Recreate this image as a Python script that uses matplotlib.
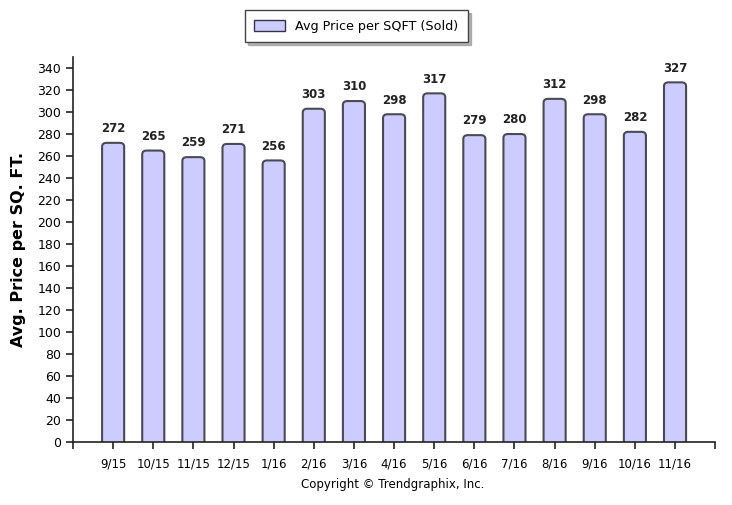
import matplotlib
matplotlib.use("Agg")
import matplotlib.pyplot as plt
from matplotlib.patches import Patch, FancyBboxPatch

months = ["9/15", "10/15", "11/15", "12/15", "1/16", "2/16", "3/16", "4/16",
          "5/16", "6/16", "7/16", "8/16", "9/16", "10/16", "11/16"]
values = [272, 265, 259, 271, 256, 303, 310, 298, 317, 279, 280, 312, 298, 282, 327]
yticks = list(range(0, 341, 20))

fig = plt.figure(figsize=(7.32, 5.05), dpi=100)
ax = fig.add_axes([0.0997, 0.1248, 0.8773, 0.7622])

x = list(range(len(months)))
bars = ax.bar(x, values, width=0.55, color="#ccccff", edgecolor="#4a4a55", linewidth=1.5, zorder=2)
# replace with rounded-top versions of the same bars
for r in bars:
    bx, by, bw, bh = r.get_x(), r.get_y(), r.get_width(), r.get_height()
    p = FancyBboxPatch((bx, by - 10), bw, bh + 10,
                       boxstyle="round,pad=0,rounding_size=0.11", mutation_aspect=32,
                       facecolor="#ccccff", edgecolor="#4a4a55", linewidth=1.5, zorder=2)
    ax.add_patch(p)
    r.set_visible(False)

for xi, v in zip(x, values):
    ax.text(xi, v + 7, str(v), ha="center", va="bottom", fontsize=8.5, fontweight="bold", color="#222222")

ax.set_xlim(-1, len(months))
ax.set_ylim(0, 350)
ax.set_yticks(yticks)
ax.set_yticklabels([str(t) for t in yticks], fontsize=9)
ax.set_xticks([-1] + x + [len(months)])
ax.set_xticklabels([""] + months + [""], fontsize=8.5)
ax.tick_params(axis="both", length=5, width=1.2, color="#222222", direction="out")
ax.tick_params(axis="x", pad=6)
for s in ["top", "right"]:
    ax.spines[s].set_visible(False)
for s in ["left", "bottom"]:
    ax.spines[s].set_linewidth(1.2)
    ax.spines[s].set_color("#222222")
    ax.spines[s].set_zorder(3)

ax.set_ylabel("Avg. Price per SQ. FT.", fontsize=11.5, fontweight="bold", labelpad=8)

leg = fig.legend(handles=[Patch(facecolor="#ccccff", edgecolor="#333344", label="Avg Price per SQFT (Sold)")],
                 loc="center", bbox_to_anchor=(0.487, 0.948), fontsize=9.2, fancybox=False,
                 shadow={"ox": 2, "oy": -2, "color": "#888888", "alpha": 0.6},
                 edgecolor="#444444", handlelength=2.4, handleheight=0.9,
                 borderpad=0.75, framealpha=1)
leg.get_frame().set_linewidth(1.0)

fig.text(0.537, 0.04, "Copyright \u00a9 Trendgraphix, Inc.", ha="center", va="center", fontsize=8.5)

fig.savefig("out.png", dpi=100)
